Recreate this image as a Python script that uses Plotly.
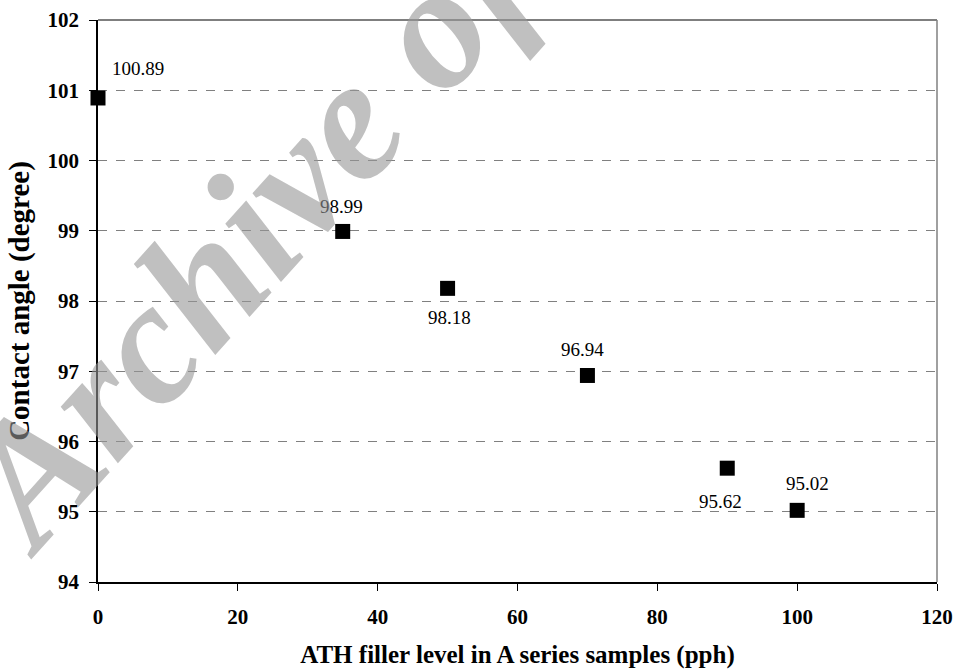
import plotly.graph_objects as go

ath_level = [0, 35, 50, 70, 90, 100]
contact_angle = [100.89, 98.99, 98.18, 96.94, 95.62, 95.02]
label_text = ["100.89", "98.99", "98.18", "96.94", "95.62", "95.02"]
label_dx = [40, -1, 2, -5, -7, 10]
label_dy = [-29, -25, 29, -26, 33, -27]

x_ticks = [0, 20, 40, 60, 80, 100, 120]
y_ticks = [94, 95, 96, 97, 98, 99, 100, 101, 102]

FONT = "Liberation Serif, Times New Roman, serif"

fig = go.Figure()
fig.add_trace(go.Scatter(
    x=ath_level, y=contact_angle, mode="markers",
    marker=dict(symbol="square", size=15, color="black"),
    cliponaxis=False, showlegend=False,
))

for x, y, t, dx, dy in zip(ath_level, contact_angle, label_text, label_dx, label_dy):
    fig.add_annotation(x=x, y=y, text=t, showarrow=False,
                       xshift=dx, yshift=-dy, xanchor="center", yanchor="middle",
                       font=dict(family=FONT, size=19, color="black"))

# watermark
fig.add_annotation(xref="paper", yref="paper", x=0.306, y=0.836,
                   xanchor="center", yanchor="middle",
                   text="<i><b>Archive of SID</b></i>", showarrow=False,
                   textangle=-48,
                   font=dict(family=FONT, size=175, color="rgba(150,150,150,0.6)"))

# top and right frame lines
fig.add_shape(type="line", xref="paper", yref="paper", x0=0, x1=1, y0=1, y1=1,
              line=dict(color="#555555", width=1.5))
fig.add_shape(type="line", xref="paper", yref="paper", x0=1, x1=1, y0=0, y1=1,
              line=dict(color="#808080", width=1.5))

fig.update_layout(
    width=953, height=670,
    margin=dict(l=98, r=16, t=20, b=88),
    plot_bgcolor="white", paper_bgcolor="white",
    font=dict(family=FONT, color="black"),
    xaxis=dict(range=[0, 120], tickvals=x_ticks, ticks="outside", ticklen=7,
               tickcolor="black", showline=True, linecolor="black", linewidth=1.5,
               showgrid=False, zeroline=False, automargin=False,
               ticklabelstandoff=8,
               tickfont=dict(family=FONT, size=21, weight="bold"),
               title=dict(text="ATH filler level in A series samples (pph)",
                          font=dict(family=FONT, size=25, weight="bold"), standoff=18)),
    yaxis=dict(range=[94, 102], tickvals=y_ticks, ticks="outside", ticklen=7,
               tickcolor="black", showline=True, linecolor="black", linewidth=1.5,
               showgrid=True, gridcolor="#808080", griddash="dash", gridwidth=1,
               zeroline=False, automargin=False,
               ticklabelstandoff=6,
               tickfont=dict(family=FONT, size=21, weight="bold"),
               title=dict(text="Contact angle (degree)",
                          font=dict(family=FONT, size=29, weight="bold"), standoff=9)),
)

fig.write_html(
    "out.html",
    config={"displayModeBar": False},
    post_script="document.body.style.margin='0';document.body.style.overflow='hidden';",
)
